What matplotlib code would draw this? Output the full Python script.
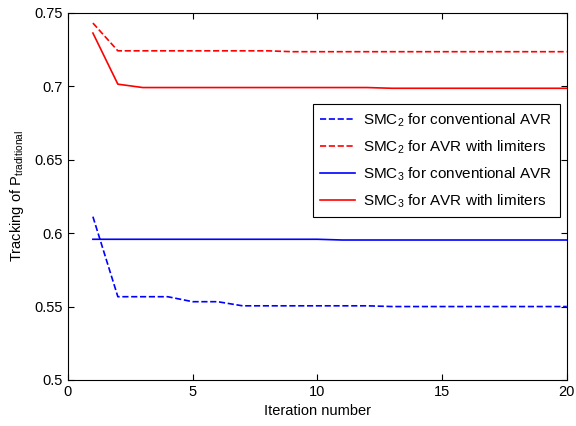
import matplotlib
matplotlib.use("Agg")
import matplotlib.pyplot as plt

plt.rcParams['font.family'] = ['Liberation Sans', 'DejaVu Sans']
plt.rcParams['mathtext.default'] = 'regular'

iterations = list(range(1, 21))

# SMC2 / SMC3 tracking values
smc2_conventional = [0.6112, 0.5567, 0.5567, 0.5567, 0.5533, 0.5533, 0.5505, 0.5505,
                     0.5505, 0.5505, 0.5505, 0.5505, 0.5500, 0.5500, 0.5500, 0.5500,
                     0.5500, 0.5500, 0.5500, 0.5500]
smc2_limiters = [0.7430, 0.7241, 0.7241, 0.7241, 0.7241, 0.7241, 0.7241, 0.7241,
                 0.7235, 0.7235, 0.7235, 0.7235, 0.7235, 0.7235, 0.7235, 0.7235,
                 0.7235, 0.7235, 0.7235, 0.7235]
smc3_conventional = [0.5958, 0.5958, 0.5958, 0.5958, 0.5958, 0.5958, 0.5958, 0.5958,
                     0.5958, 0.5958, 0.5953, 0.5953, 0.5953, 0.5953, 0.5953, 0.5953,
                     0.5953, 0.5953, 0.5953, 0.5953]
smc3_limiters = [0.7362, 0.7014, 0.6991, 0.6991, 0.6991, 0.6991, 0.6991, 0.6991,
                 0.6991, 0.6991, 0.6991, 0.6991, 0.6986, 0.6986, 0.6986, 0.6986,
                 0.6986, 0.6986, 0.6986, 0.6986]

labels = ['SMC$_2$ for conventional AVR', 'SMC$_2$ for AVR with limiters',
          'SMC$_3$ for conventional AVR', 'SMC$_3$ for AVR with limiters']

fig = plt.figure(figsize=(5.76, 4.26), dpi=100)
ax = fig.add_axes([0.118, 0.108, 0.866, 0.862])

ax.plot(iterations, smc2_conventional, '--', color='blue', lw=1.2, label=labels[0])
ax.plot(iterations, smc2_limiters, '--', color='red', lw=1.2, label=labels[1])
ax.plot(iterations, smc3_conventional, '-', color='blue', lw=1.2, label=labels[2])
ax.plot(iterations, smc3_limiters, '-', color='red', lw=1.2, label=labels[3])

ax.set_xlim(0, 20)
ax.set_ylim(0.5, 0.75)
ax.set_xticks([0, 5, 10, 15, 20])
ax.set_yticks([0.5, 0.55, 0.6, 0.65, 0.7, 0.75])
ax.set_yticklabels(['0.5', '0.55', '0.6', '0.65', '0.7', '0.75'])
ax.tick_params(direction='in', top=True, right=True, labelsize=10.5, length=4)
ax.set_xlabel('Iteration number', fontsize=10.5, labelpad=4)
ax.set_ylabel('Tracking of P$_{traditional}$', fontsize=10.5, labelpad=6)

leg = ax.legend(loc='upper right', bbox_to_anchor=(0.986, 0.752), borderaxespad=0,
                fontsize=11, fancybox=False, edgecolor='black', framealpha=1,
                handlelength=2.3, handletextpad=0.5, borderpad=0.5, labelspacing=0.62)
leg.get_frame().set_linewidth(0.8)

fig.savefig('out.png', dpi=100)
